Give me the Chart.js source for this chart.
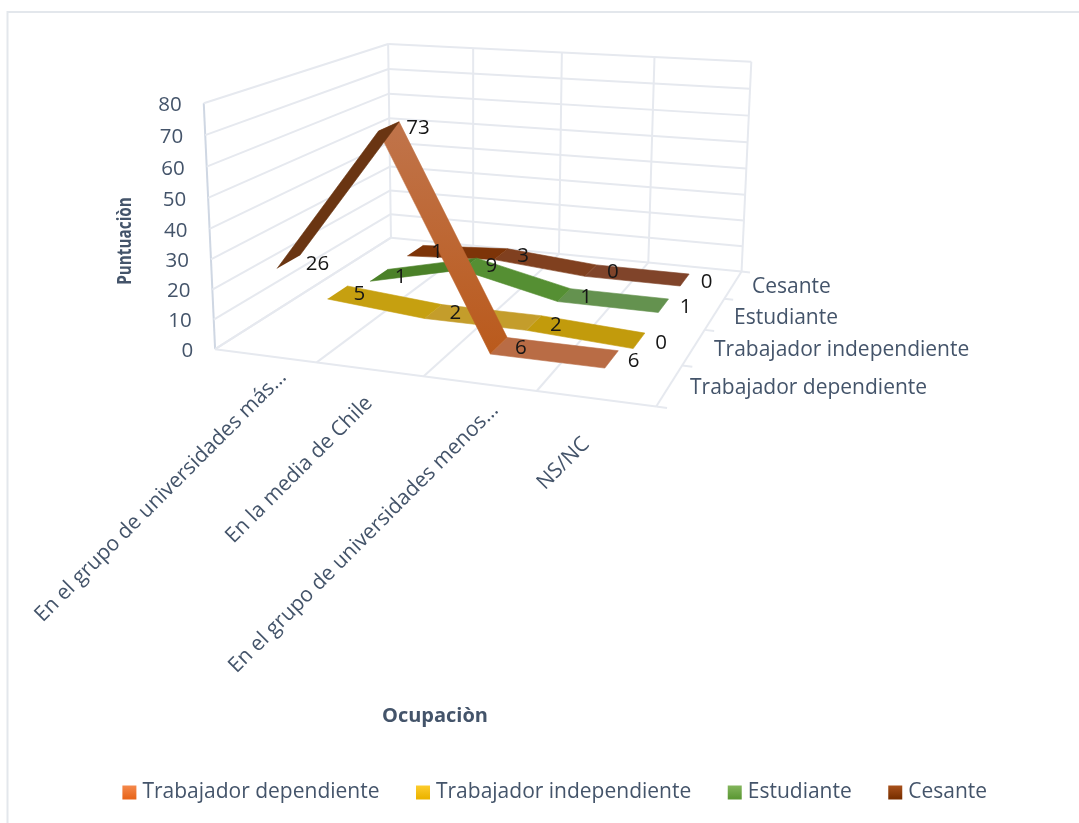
<!DOCTYPE html>
<html><head><meta charset="utf-8">
<style>html,body{margin:0;padding:0;background:#fff}canvas{display:block}</style>
<script src="https://cdn.jsdelivr.net/npm/chart.js@4"></script>
</head><body>
<canvas id="c" width="1079" height="823"></canvas>
<script>
// ---- data ----
const categories = ['En el grupo de universidades más…','En la media de Chile','En el grupo de universidades menos…','NS/NC'];
const seriesNames = ['Trabajador dependiente','Trabajador independiente','Estudiante','Cesante'];
const trabajadorDependiente = [26,73,6,6];
const trabajadorIndependiente = [5,2,2,0];
const estudiante = [1,9,1,1];
const cesante = [1,3,0,0];
const valueTicks = [0,10,20,30,40,50,60,70,80];
const xTitle = 'Ocupaciòn';
const yTitle = 'Puntuaciòn';
// ---- styles ----
const seriesValues = [trabajadorDependiente,trabajadorIndependiente,estudiante,cesante];
const segmentColors = [
  ['#6a3512',['#c07349','#ba5a1c'],'#b96c45'],
  ['#c6a010','#c49d2b','#c29b0c'],
  ['#4b8128','#558f33','#64924f'],
  ['#7d3408','#80401f','#80442a']];
const swatchColors = [['#f68d52','#e8661b'],['#ffcf33','#ecb400'],['#88b961','#5d9936'],['#ae551f','#7a3000']];
const gridColor = '#e6e9ef', axisColor = '#cfd7e3', textColor = '#44546a', FONT = '"Open Sans"';
const VALUE_MAX = 80, HALF_DEPTH = 0.056;
// ---- perspective camera: calibrated from the box corners of the 3D frame ----
const frameCorners = [
  [0,0,0,216,349],[1,0,0,656,407],[0,1,0,390,238],[1,1,0,742,271],
  [0,0,1,203,103],[0,1,1,389,44],[1,1,1,751,62]];
function solveCamera(pts){
  const A=[],b=[];
  pts.forEach(([X,Y,Z,x,y])=>{
    A.push([X,Y,Z,1,0,0,0,0,-x*X,-x*Y,-x*Z]);b.push(x);
    A.push([0,0,0,0,X,Y,Z,1,-y*X,-y*Y,-y*Z]);b.push(y);
  });
  const n=11,M=[];
  for(let i=0;i<n;i++){const r=[];for(let j=0;j<n;j++){let s=0;A.forEach(a=>s+=a[i]*a[j]);r.push(s);}
    let s=0;A.forEach((a,k)=>s+=a[i]*b[k]);r.push(s);M.push(r);}
  for(let i=0;i<n;i++){let p=i;for(let k=i+1;k<n;k++)if(Math.abs(M[k][i])>Math.abs(M[p][i]))p=k;
    [M[i],M[p]]=[M[p],M[i]];
    for(let k=0;k<n;k++){if(k===i)continue;const f=M[k][i]/M[i][i];for(let j=i;j<=n;j++)M[k][j]-=f*M[i][j];}}
  return M.map((r,i)=>r[n]/r[i]);
}
const cam = solveCamera(frameCorners);
function project(u,v,w){
  const d=cam[8]*u+cam[9]*v+cam[10]*w+1;
  return {x:(cam[0]*u+cam[1]*v+cam[2]*w+cam[3])/d, y:(cam[4]*u+cam[5]*v+cam[6]*w+cam[7])/d};
}
const catU = i => (i+0.5)/categories.length;
const serV = s => (s+0.5)/seriesNames.length;
const valW = val => val/VALUE_MAX;
// ---- datasets ----
const canvasEl = document.getElementById('c');
const ctx2d = canvasEl.getContext('2d');
const datasets = [];
function paint(col,a,b){
  if(typeof col==='string') return col;
  const g=ctx2d.createLinearGradient(0,a.y,0,b.y);
  g.addColorStop(0,a.y<b.y?col[0]:col[1]);g.addColorStop(1,a.y<b.y?col[1]:col[0]);
  return g;
}
function ribbon(s){
  const vals=seriesValues[s], v=serV(s);
  for(let i=0;i<vals.length-1;i++){
    const pts=[project(catU(i),v-HALF_DEPTH,valW(vals[i])),project(catU(i+1),v-HALF_DEPTH,valW(vals[i+1])),
               project(catU(i+1),v+HALF_DEPTH,valW(vals[i+1])),project(catU(i),v+HALF_DEPTH,valW(vals[i]))];
    const col=paint(segmentColors[s][i],pts[0],pts[1]);
    datasets.push({label:seriesNames[s],showLine:true,fill:'shape',pointRadius:0,
      backgroundColor:col,borderColor:col,borderWidth:0.6,data:pts});
  }
}
function frameLine(a,b,color,width){
  datasets.push({label:'frame',showLine:true,fill:false,pointRadius:0,borderColor:color,borderWidth:width,
    data:[project(...a),project(...b)]});
}
// front series are first so they paint last
for(let s=0;s<seriesNames.length;s++) ribbon(s);
const nC=categories.length,nS=seriesNames.length;
valueTicks.forEach(t=>{const w=valW(t);
  frameLine([0,0,w],[0,1,w],gridColor,2);
  frameLine([0,1,w],[1,1,w],gridColor,2);});
for(let i=0;i<=nC;i++){const u=i/nC;
  frameLine([u,1,0],[u,1,1],gridColor,2);
  frameLine([u,0,0],[u,1,0],gridColor,2);}
for(let s=0;s<=nS;s++){frameLine([1,s/nS,0],[1.022,s/nS,0],gridColor,2);}
frameLine([0,0,0],[1,0,0],gridColor,2);
frameLine([0,0,0],[0,0,1],axisColor,2);

const categoryLabelEnds = [[283,374],[369,400],[495,407],[586,441]];
const seriesLabelStarts = [[690,388],[714,350],[734,318],[752,287]];
const highLabelNudge = v => v>20 ? 7 : 0;

const texts = {
  id:'texts',
  beforeDraw(chart){
    const c=chart.ctx;c.save();c.fillStyle='#fff';c.fillRect(0,0,chart.width,chart.height);
    c.strokeStyle='#e3e7ec';c.lineWidth=2;c.beginPath();c.moveTo(7.5,823);c.lineTo(7.5,12);c.lineTo(1079,12);c.stroke();c.restore();
  },
  afterLayout(chart){
    const {x,y}=chart.scales;
    x.min=x.left;x.max=x.right;y.min=y.top;y.max=y.bottom;
    x.configure();y.configure();
  },
  afterDatasetsDraw(chart){
    const c=chart.ctx;c.save();
    c.textBaseline='middle';
    // value axis
    c.fillStyle=textColor;c.font=`20.5px ${FONT}`;c.textAlign='right';
    valueTicks.forEach(t=>{const p=project(0,0,valW(t));c.fillText(String(t),p.x-22,p.y+2);});
    // series axis
    c.font=`21px ${FONT}`;c.textAlign='left';
    seriesNames.forEach((n,i)=>c.fillText(n,seriesLabelStarts[i][0],seriesLabelStarts[i][1]));
    // category axis
    c.textAlign='right';
    categories.forEach((n,i)=>{c.save();c.translate(categoryLabelEnds[i][0],categoryLabelEnds[i][1]);c.rotate(-Math.PI/4);c.fillText(n,0,0);c.restore();});
    // titles
    c.font=`bold 20px ${FONT}`;c.textAlign='center';
    c.fillText(xTitle,435,716);
    c.save();c.translate(125,241);c.rotate(-Math.PI/2);c.scale(0.765,1);c.fillText(yTitle,0,0);c.restore();
    // data labels
    c.font=`20.5px ${FONT}`;c.fillStyle='#161616';
    seriesValues.forEach((vals,s)=>vals.forEach((val,i)=>{
      const p=project(catU(i),serV(s),valW(val));c.fillText(String(val),p.x+22+highLabelNudge(val),p.y+2);}));
    c.restore();
  }
};

new Chart(canvasEl,{
  type:'scatter',
  data:{datasets},
  plugins:[texts],
  options:{
    responsive:false,animation:false,events:[],
    layout:{padding:{left:35,bottom:10}},
    scales:{
      x:{type:'linear',display:false,min:0,max:1079},
      y:{type:'linear',display:false,min:0,max:823,reverse:true}
    },
    elements:{line:{tension:0}},
    plugins:{
      tooltip:{enabled:false},
      legend:{
        display:true,position:'bottom',
        labels:{
          boxWidth:5,boxHeight:5,padding:41,color:textColor,font:{family:FONT,size:21},
          generateLabels(chart){
            return seriesNames.map((n,i)=>{
              const g=chart.ctx.createLinearGradient(0,784,0,798);
              g.addColorStop(0,swatchColors[i][0]);g.addColorStop(1,swatchColors[i][1]);
              return {text:n,fillStyle:g,strokeStyle:g,lineWidth:9,fontColor:textColor,hidden:false,datasetIndex:i};
            });
          }
        }
      }
    }
  }
});
</script>
</body></html>
